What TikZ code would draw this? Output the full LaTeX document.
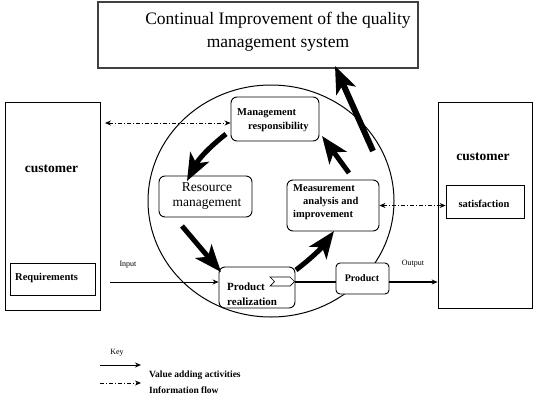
\documentclass[tikz,border=0pt]{standalone}
\usepackage{fontspec}
\setmainfont{Liberation Serif}
\usetikzlibrary{arrows.meta}
\begin{document}
\begin{tikzpicture}[x=1pt,y=-1pt,
  rbox/.style={draw, rounded corners=6pt, fill=white, line width=0.9pt, inner sep=0pt},
  pbox/.style={draw, fill=white, line width=0.8pt, inner sep=0pt},
  bt/.style={font=\bfseries\fontsize{10.5}{13}\selectfont, inner sep=0pt},
  small/.style={font=\fontsize{8}{9}\selectfont, inner sep=0pt},
  flow/.style={line width=5pt, -{Stealth[length=27pt,width=21pt,inset=7pt]}},
  info/.style={dash pattern=on 4pt off 2pt on 1pt off 2pt, line width=0.7pt},
  tip/.style={-{Stealth[length=6pt,width=5pt]}},
  biinfo/.style={info, {Stealth[length=6pt,width=5pt]}-{Stealth[length=6pt,width=5pt]}}
]
\useasboundingbox (0,0) rectangle (541,402);
\fill[white] (0,0) rectangle (541,402);

% top box
\node[pbox, draw=black!75, line width=1.4pt, minimum width=320pt, minimum height=66pt] (title) at (258,35) {};
\node[inner sep=0pt, align=center, font=\fontsize{17.5}{23}\selectfont] (titletext) at (278,32)
  {Continual Improvement of the quality\\management system};

% circle
\draw[line width=1pt] (271,201) ellipse [x radius=123pt, y radius=116pt];

% customers
\node[pbox, minimum width=95pt, minimum height=208pt] (lcust) at (52.5,206) {};
\node[font=\bfseries\fontsize{13.5}{15}\selectfont, inner sep=0pt] (lcusttext) at (51.5,169) {customer};
\node[pbox, minimum width=85pt, minimum height=32pt] (req) at (52.5,279) {};
\node[bt, anchor=west] (reqtext) at (15,278) {Requirements};

\node[pbox, minimum width=94pt, minimum height=206pt] (rcust) at (485,205) {};
\node[font=\bfseries\fontsize{13.5}{15}\selectfont, inner sep=0pt] (rcusttext) at (483,157) {customer};
\node[pbox, minimum width=78pt, minimum height=33pt] (satis) at (485,201.5) {};
\node[bt] (satistext) at (484,204) {satisfaction};

% process boxes
\node[rbox, minimum width=88pt, minimum height=44pt] (mgmt) at (275,119) {};
\node[bt, anchor=west, align=left, font=\bfseries\fontsize{10.5}{14}\selectfont] (mgmttext) at (237,120)
  {Management\\\hspace*{11pt}responsibility};

\node[rbox, minimum width=93pt, minimum height=41pt] (res) at (205.5,196.5) {};
\node[inner sep=0pt, align=center, font=\fontsize{13.5}{15}\selectfont] (restext) at (207,196)
  {Resource\\management};

\node[rbox, minimum width=92pt, minimum height=51pt] (meas) at (333,205.5) {};
\node[bt, anchor=west, align=left] (meastext) at (293,202)
  {Measurement\\\hspace*{10pt}analysis and\\improvement};

\node[rbox, minimum width=76pt, minimum height=41pt] (prodreal) at (257,287.5) {};
\node[bt, anchor=west, align=left, font=\bfseries\fontsize{11}{15}\selectfont] (prodrealtext) at (227,294.5)
  {Product\\realization};
\draw[fill=white, line width=0.7pt] (270,277) -- (290,277) -- (294.5,281.5) -- (290,286) -- (270,286) -- (274.5,281.5) -- cycle;

\node[rbox, rounded corners=4pt, minimum width=53pt, minimum height=31pt] (product) at (362.5,278.5) {};
\node[bt, font=\bfseries\fontsize{10}{12}\selectfont] (producttext) at (362,278) {Product};

% input / output
\coordinate (in0) at (110,282);
\draw[line width=0.8pt, tip] (in0) -- (in0 -| prodreal.west);
\node[small] (inputlbl) at (128,265) {Input};
\coordinate (pr0) at (295,282);
\draw[line width=1.5pt] (pr0) -- (pr0 -| product.west);
\coordinate (out0) at (389,282);
\draw[line width=1.5pt, tip] (out0) -- (out0 -| rcust.west);
\node[small] (outputlbl) at (413,264) {Output};

% information flow
\coordinate (lc1) at (105,123);
\draw[biinfo] (lc1) -- (lc1 -| mgmt.west);
\draw[biinfo] (meas.east) -- (meas.east -| satis.west);

% value adding flows
\coordinate (a1s) at (226,134);
\coordinate (a1e) at (187,181);
\draw[flow] (a1s) to[bend right=12] (a1e);
\coordinate (a2s) at (182,226);
\coordinate (a2e) at (221,272);
\draw[flow] (a2s) -- (a2e);
\coordinate (a3s) at (296,270);
\coordinate (a3e) at (334,231);
\draw[flow] (a3s) to[bend right=8] (a3e);
\coordinate (a4s) at (349,173);
\coordinate (a4e) at (322,136);
\draw[flow] (a4s) -- (a4e);
\coordinate (a5s) at (373,151);
\coordinate (a5e) at (335,66);
\draw[flow, line width=6pt] (a5s) -- (a5e);

% key
\node[small] (keylbl) at (117,353) {Key};
\coordinate (k1) at (100,365);
\coordinate (k1e) at (141,365);
\draw[line width=0.8pt, tip] (k1) -- (k1e);
\node[bt, anchor=west, font=\bfseries\fontsize{9.5}{11}\selectfont] (k1text) at (149,375) {Value adding activities};
\coordinate (k2) at (100,383);
\coordinate (k2e) at (141,383);
\draw[info, tip] (k2) -- (k2e);
\node[bt, anchor=west, font=\bfseries\fontsize{9.5}{11}\selectfont] (k2text) at (149,390) {Information flow};
\end{tikzpicture}
\end{document}
